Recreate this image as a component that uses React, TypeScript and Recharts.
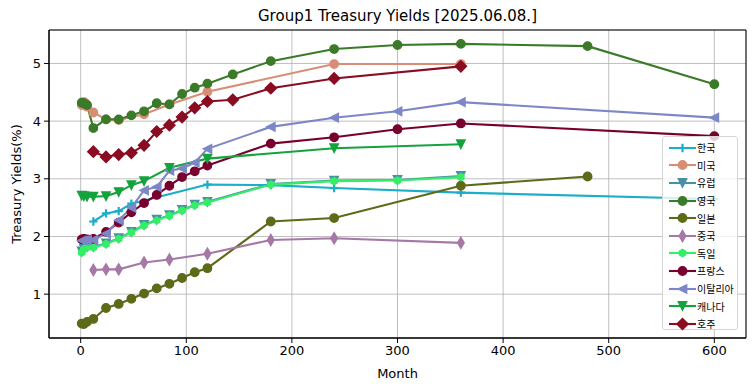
import { CartesianGrid, Line, LineChart, ReferenceArea, XAxis, YAxis } from 'recharts';

// months to maturity and yields (%) per country
const krMonths = [12, 24, 36, 48, 120, 180, 240, 360, 600];
const krYields = [2.26, 2.4, 2.44, 2.57, 2.9, 2.89, 2.84, 2.76, 2.65];

const usMonths = [1, 2, 3, 4, 6, 12, 24, 36, 60, 84, 120, 240, 360];
const usYields = [4.28, 4.31, 4.33, 4.32, 4.25, 4.15, 4.03, 4.02, 4.12, 4.29, 4.51, 4.99, 4.99];

const euMonths = [1, 3, 6, 12, 24, 36, 48, 60, 72, 84, 96, 108, 120, 180, 240, 300, 360];
const euYields = [1.74, 1.79, 1.82, 1.82, 1.88, 1.97, 2.08, 2.2, 2.29, 2.37, 2.46, 2.55, 2.6, 2.91, 2.97, 2.98, 3.05];

const ukMonths = [1, 3, 6, 12, 24, 36, 48, 60, 72, 84, 96, 108, 120, 144, 180, 240, 300, 360, 480, 600];
const ukYields = [4.32, 4.31, 4.28, 3.88, 4.03, 4.03, 4.1, 4.17, 4.31, 4.29, 4.47, 4.58, 4.65, 4.81, 5.04, 5.25, 5.32, 5.34, 5.3, 4.64];

const jpMonths = [1, 3, 6, 12, 24, 36, 48, 60, 72, 84, 96, 108, 120, 180, 240, 360, 480];
const jpYields = [0.49, 0.48, 0.52, 0.57, 0.76, 0.83, 0.92, 1.01, 1.1, 1.18, 1.28, 1.38, 1.45, 2.26, 2.32, 2.88, 3.04];

const cnMonths = [12, 24, 36, 60, 84, 120, 180, 240, 360];
const cnYields = [1.42, 1.43, 1.43, 1.55, 1.6, 1.7, 1.94, 1.97, 1.89];

const deMonths = [1, 3, 6, 12, 24, 36, 48, 60, 72, 84, 96, 108, 120, 180, 240, 300, 360];
const deYields = [1.72, 1.78, 1.81, 1.81, 1.87, 1.96, 2.07, 2.19, 2.28, 2.36, 2.45, 2.54, 2.59, 2.9, 2.96, 2.97, 3.03];

const frMonths = [1, 3, 6, 12, 24, 36, 48, 60, 72, 84, 96, 108, 120, 180, 240, 300, 360, 600];
const frYields = [1.95, 1.96, 1.95, 1.96, 2.08, 2.24, 2.42, 2.58, 2.72, 2.88, 3.03, 3.13, 3.23, 3.61, 3.72, 3.86, 3.96, 3.74];

const itMonths = [1, 3, 6, 12, 24, 36, 48, 60, 72, 84, 96, 108, 120, 180, 240, 300, 360, 600];
const itYields = [1.93, 1.93, 1.94, 1.94, 2.05, 2.28, 2.5, 2.8, 2.86, 3.14, 3.18, 3.28, 3.52, 3.9, 4.06, 4.17, 4.33, 4.06];

const caMonths = [1, 3, 6, 12, 24, 36, 48, 60, 84, 120, 240, 360];
const caYields = [2.71, 2.7, 2.69, 2.69, 2.7, 2.77, 2.89, 2.96, 3.19, 3.35, 3.53, 3.6];

const auMonths = [12, 24, 36, 48, 60, 72, 84, 96, 108, 120, 144, 180, 240, 360];
const auYields = [3.47, 3.38, 3.42, 3.45, 3.58, 3.82, 3.93, 4.07, 4.23, 4.34, 4.37, 4.57, 4.74, 4.95];

const xTicks = [0, 100, 200, 300, 400, 500, 600];
const yTicks = [1, 2, 3, 4, 5];

type Shape = 'plus' | 'circle' | 'vdown' | 'left' | 'thin' | 'hex' | 'diamond';

const toRows = (months: number[], yields: number[]) =>
  months.map((m, i) => ({ m, y: yields[i] }));

const series: { name: string; color: string; shape: Shape; data: { m: number; y: number }[] }[] = [
  { name: '한국', color: '#1cadc9', shape: 'plus', data: toRows(krMonths, krYields) },
  { name: '미국', color: '#d98d76', shape: 'circle', data: toRows(usMonths, usYields) },
  { name: '유럽', color: '#4a8fa6', shape: 'vdown', data: toRows(euMonths, euYields) },
  { name: '영국', color: '#3b7a29', shape: 'circle', data: toRows(ukMonths, ukYields) },
  { name: '일본', color: '#5d6a18', shape: 'circle', data: toRows(jpMonths, jpYields) },
  { name: '중국', color: '#a678a6', shape: 'thin', data: toRows(cnMonths, cnYields) },
  { name: '독일', color: '#33ee66', shape: 'hex', data: toRows(deMonths, deYields) },
  { name: '프랑스', color: '#77002f', shape: 'circle', data: toRows(frMonths, frYields) },
  { name: '이탈리아', color: '#7d87c7', shape: 'left', data: toRows(itMonths, itYields) },
  { name: '캐나다', color: '#14a33c', shape: 'vdown', data: toRows(caMonths, caYields) },
  { name: '호주', color: '#890c22', shape: 'diamond', data: toRows(auMonths, auYields) },
];

const Marker = ({ shape, cx, cy, color }: { shape: Shape; cx: number; cy: number; color: string }) => {
  const r = 4.2;
  const common = { fill: color, stroke: color, strokeWidth: 1.4 };
  switch (shape) {
    case 'plus':
      return <path d={`M${cx - r},${cy}H${cx + r}M${cx},${cy - r}V${cy + r}`} stroke={color} strokeWidth={2.2} />;
    case 'circle':
      return <circle cx={cx} cy={cy} r={r} {...common} />;
    case 'vdown':
      return <polygon points={`${cx},${cy + r} ${cx - r},${cy - r} ${cx + r},${cy - r}`} {...common} />;
    case 'left':
      return <polygon points={`${cx - r},${cy} ${cx + r},${cy - r} ${cx + r},${cy + r}`} {...common} />;
    case 'thin': {
      const h = 5.6;
      const w = 3.3;
      return <polygon points={`${cx},${cy - h} ${cx + w},${cy} ${cx},${cy + h} ${cx - w},${cy}`} {...common} />;
    }
    case 'hex': {
      const hr = 3.6;
      const pts = [0, 1, 2, 3, 4, 5]
        .map((k) => {
          const a = (Math.PI / 3) * k - Math.PI / 2;
          return `${cx + hr * Math.cos(a)},${cy + hr * Math.sin(a)}`;
        })
        .join(' ');
      return <polygon points={pts} {...common} />;
    }
    case 'diamond': {
      const d = 5.6;
      return <polygon points={`${cx},${cy - d} ${cx + d},${cy} ${cx},${cy + d} ${cx - d},${cy}`} {...common} />;
    }
  }
  return null;
};

const LegendBox = () => (
  <div
    style={{
      position: 'absolute',
      left: 662,
      top: 136,
      width: 76,
      height: 194,
      border: '1px solid #d6d6d6',
      borderRadius: 3,
      background: 'rgba(255,255,255,0.8)',
      fontFamily: '"Noto Sans CJK KR", sans-serif',
      fontSize: 10,
      color: '#000',
      boxSizing: 'border-box',
      paddingTop: 2,
    }}
  >
    {series.map((s) => (
      <div key={s.name} style={{ display: 'flex', alignItems: 'center', height: 17.6 }}>
        <svg width={36} height={14} style={{ flex: 'none' }}>
          <line x1={6} y1={7} x2={33} y2={7} stroke={s.color} strokeWidth={2.1} />
          <Marker shape={s.shape} cx={19.5} cy={7} color={s.color} />
        </svg>
        <span style={{ marginLeft: -2 }}>{s.name}</span>
      </div>
    ))}
  </div>
);

const tickStyle = { fontSize: 13, fill: '#000', fontFamily: '"DejaVu Sans", sans-serif' };

export default function App() {
  return (
    <div style={{ position: 'absolute', left: 0, top: 0, width: 755, height: 391, background: '#fff' }}>
      <div
        style={{
          position: 'absolute',
          left: 49,
          width: 697,
          top: 7,
          textAlign: 'center',
          fontFamily: '"DejaVu Sans", sans-serif',
          fontSize: 15,
        }}
      >
        Group1 Treasury Yields [2025.06.08.]
      </div>
      <LineChart width={755} height={391} margin={{ top: 30, right: 9, left: 0, bottom: 0 }}>
        <CartesianGrid stroke="#b0b0b0" strokeWidth={0.8} />
        <XAxis
          type="number"
          dataKey="m"
          domain={[-30, 630]}
          ticks={xTicks}
          allowDataOverflow
          height={53}
          tick={tickStyle}
          tickLine={{ stroke: '#000' }}
          axisLine={{ stroke: '#000' }}
          tickSize={5}
          tickMargin={3}
          label={{ value: 'Month', position: 'insideBottom', offset: 13, style: tickStyle }}
        />
        <YAxis
          type="number"
          dataKey="y"
          domain={[0.24, 5.58]}
          ticks={yTicks}
          allowDataOverflow
          width={49}
          tick={tickStyle}
          tickLine={{ stroke: '#000' }}
          axisLine={{ stroke: '#000' }}
          tickSize={5}
          tickMargin={3}
          label={{
            value: 'Treasury Yields(%)',
            angle: -90,
            position: 'insideLeft',
            offset: 16,
            style: { ...tickStyle, textAnchor: 'middle' },
          }}
        />
        <ReferenceArea x1={-30} x2={630} y1={0.24} y2={5.58} fill="none" stroke="#000" strokeWidth={1} />
        {series.map((s) => (
          <Line
            key={s.name}
            data={s.data}
            dataKey="y"
            name={s.name}
            type="linear"
            stroke={s.color}
            strokeWidth={2.1}
            isAnimationActive={false}
            dot={(p: any) => (
              <Marker key={`${s.name}-${p.index}`} shape={s.shape} cx={p.cx} cy={p.cy} color={s.color} />
            )}
            activeDot={false}
          />
        ))}
      </LineChart>
      <LegendBox />
    </div>
  );
}
